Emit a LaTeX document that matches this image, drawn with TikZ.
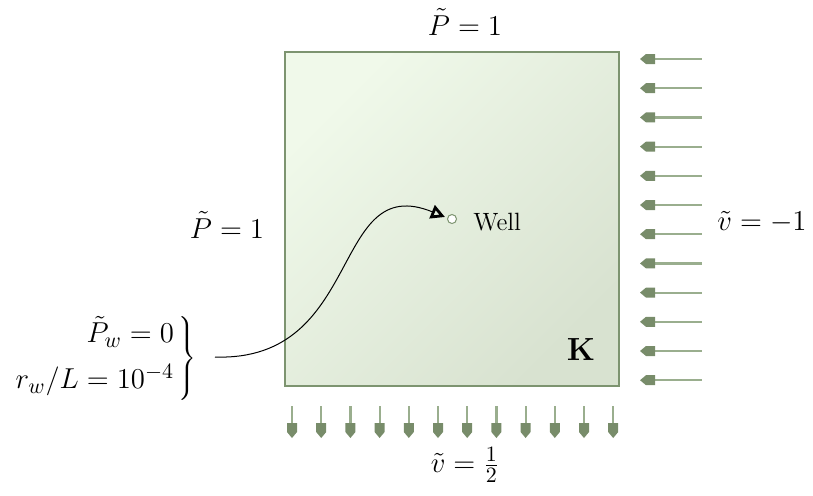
\documentclass[tikz,border=0pt]{standalone}
\usetikzlibrary{arrows.meta}
\definecolor{boxline}{HTML}{7D9470}
\definecolor{boxlight}{HTML}{F0F9EA}
\definecolor{boxdark}{HTML}{D8E2D0}
\definecolor{headcol}{HTML}{788C6A}
\definecolor{shaftcol}{HTML}{9AAE8E}
\tikzset{
  lbl/.style={inner sep=0pt, font=\fontsize{15}{18}\selectfont},
  shaftline/.style={draw=shaftcol, line width=1.1pt},
  headshape/.style={fill=headcol, draw=none},
  pics/leftarrow/.style={code={
    \draw[shaftline] (655,0) -- (702,0);
    \fill[headshape] (640,0) -- (646,-5) -- (655,-5) -- (655,5) -- (646,5) -- cycle;
  }},
  pics/downarrow/.style={code={
    \draw[shaftline] (0,406) -- (0,424);
    \fill[headshape] (0,438) -- (-5,432) -- (-5,423) -- (5,423) -- (5,432) -- cycle;
  }}
}
\begin{document}
\begin{tikzpicture}[x=0.5pt,y=-0.5pt]
\useasboundingbox (0,0) rectangle (813,495);
% box
\shade[top color=boxlight, bottom color=boxdark, shading angle=45] (285,52) rectangle (619,386);
\draw[boxline, line width=1pt] (285,52) rectangle (619,386);
% right arrows
\foreach \i in {0,...,11}{
  \pic at (0,{59+29.2*\i}) {leftarrow};
}
% bottom arrows
\foreach \i in {0,...,11}{
  \pic at ({292+29.2*\i},0) {downarrow};
}
% well
\node[circle, draw=boxline, fill=white, line width=0.5pt, minimum size=4.5pt, inner sep=0pt] (well) at (452,219) {};
\node[anchor=west, inner sep=0pt, font=\fontsize{12.5}{15}\selectfont] (welllbl) at (473,222) {Well};
\node[inner sep=0pt, font=\fontsize{16}{19}\selectfont\bfseries] (K) at (581,350) {K};
% labels
\node[lbl] (top) at (465,22) {$\tilde{P}=1$};
\node[lbl] (left) at (227,225) {$\tilde{P}=1$};
\node[lbl] (right) at (762,222) {$\tilde{v}=-1$};
\node[lbl] (bottom) at (465,465) {$\tilde{v}=\frac{1}{2}$};
\node[lbl, anchor=east] (wellcond) at (197,358) {$\left.\begin{array}{@{}r@{}}\tilde{P}_w=0\\[5pt] r_w/L=10^{-4}\end{array}\,\right\}$};
\coordinate (cstart) at (215,357);
\coordinate (ctip) at (445,217);
\draw[line width=0.5pt, -{Triangle[open,length=7pt,width=7pt,line width=1.4pt]}] (cstart) .. controls (365,362) and (330,170) .. (ctip);
\end{tikzpicture}
\end{document}
